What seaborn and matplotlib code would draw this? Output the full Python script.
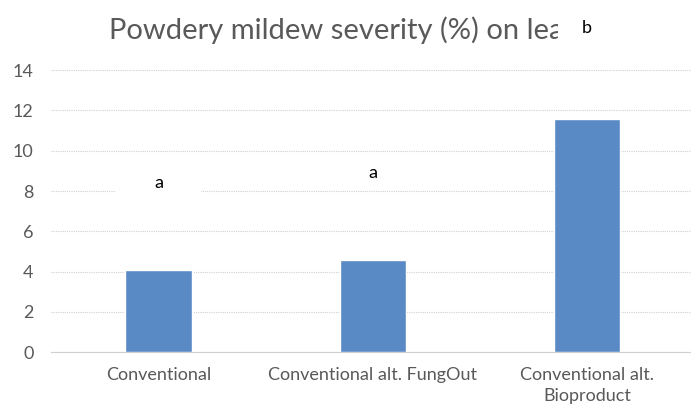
import matplotlib
matplotlib.use("Agg")
import matplotlib.pyplot as plt
from matplotlib.patches import Rectangle
import seaborn as sns
import pandas as pd

# data
treatments = ["Conventional", "Conventional alt. FungOut", "Conventional alt.\nBioproduct"]
severity = [4.1, 4.55, 11.6]
letters = ["a", "a", "b"]
letter_y = [8.4, 8.9, 16.1]
yticks = [0, 2, 4, 6, 8, 10, 12, 14]

df = pd.DataFrame({"treatment": treatments, "severity": severity})

sns.set_style("white")
plt.rcParams["font.family"] = ["Lato", "DejaVu Sans"]

fig = plt.figure(figsize=(6.91, 4.08), dpi=100)
ax = fig.add_axes([0.0745, 0.137, 0.93, 0.691])

sns.barplot(data=df, x="treatment", y="severity", color="#5A8AC5",
            width=0.31, saturation=1, ax=ax, zorder=3)

ax.set_ylim(0, 14)
ax.set_xlim(-0.5, 2.5)
ax.set_yticks(yticks)
ax.yaxis.grid(True, color="#d0d0d0", linestyle=(0, (1, 1)), linewidth=0.8, zorder=0)
ax.set_axisbelow(True)
for s in ["top", "right", "left"]:
    ax.spines[s].set_visible(False)
ax.spines["bottom"].set_color("#d0d0d0")
ax.spines["bottom"].set_linewidth(0.8)
ax.spines["bottom"].set_linestyle((0, (1, 1)))
ax.tick_params(axis="both", length=0, colors="#595959", labelsize=13)
ax.tick_params(axis="x", pad=11)
ax.tick_params(axis="y", pad=13)
for t in ax.get_xticklabels():
    t.set_linespacing(1.35)
ax.set_xlabel("")
ax.set_ylabel("")

# title sits under the white box of the "b" letter, as in the reference
ax.text(0.4505, 1.142, "Powdery mildew severity (%) on leaf", transform=ax.transAxes,
        ha="center", va="center", fontsize=21, color="#595959", zorder=1, clip_on=False)

box_half = [0.2, 0.2, 0.135]  # white label boxes, the last one is narrower
for i, (lab, yy) in enumerate(zip(letters, letter_y)):
    hw = box_half[i]
    ax.add_patch(Rectangle((i - hw, yy - 0.6), 2 * hw, 1.2, facecolor="white",
                           edgecolor="none", zorder=4, clip_on=False))
    ax.text(i, yy, lab, ha="center", va="center", fontsize=13, color="black",
            clip_on=False, zorder=5)

fig.savefig("out.png", dpi=100)
